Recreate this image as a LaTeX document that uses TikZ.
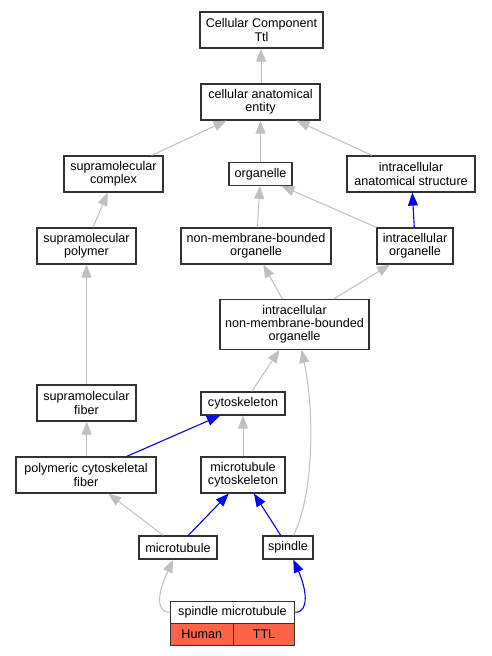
\documentclass[tikz,border=0pt]{standalone}
\usepackage{fontspec}
\setmainfont{Liberation Sans}
\usetikzlibrary{arrows.meta}
\definecolor{edgegray}{RGB}{192,192,192}
\definecolor{boxline}{RGB}{50,50,50}
\definecolor{tomato}{RGB}{255,99,71}
\tikzset{
  box/.style={draw=boxline, line width=1.2pt, fill=white, inner sep=0pt, align=center,
    font=\fontsize{12.6}{13.2}\selectfont},
  ge/.style={draw=edgegray, line width=1pt, -{Triangle[length=13pt,width=10pt]}},
  be/.style={draw=blue, line width=1.1pt, -{Triangle[length=13pt,width=10pt]}},
}
\begin{document}
\begin{tikzpicture}[x=1pt,y=-1pt]
\useasboundingbox (0,0) rectangle (491,656);
% nodes
\node[box, minimum width=123pt, minimum height=36pt] (cct) at (261.5,30) {Cellular Component\\Ttl};
\node[box, minimum width=119pt, minimum height=36pt] (cae) at (260.5,102) {cellular anatomical\\entity};
\node[box, minimum width=99pt, minimum height=36pt] (smc) at (113.5,174) {supramolecular\\complex};
\node[box, minimum width=63pt, minimum height=22.5pt] (org) at (260.5,174) {organelle};
\node[box, minimum width=128pt, minimum height=36pt] (ias) at (411,174) {intracellular\\anatomical structure};
\node[box, minimum width=99pt, minimum height=36pt] (smp) at (86.5,246) {supramolecular\\polymer};
\node[box, minimum width=150pt, minimum height=36pt] (nmbo) at (256,246) {non-membrane-bounded\\organelle};
\node[box, minimum width=76pt, minimum height=36pt] (io) at (415,246) {intracellular\\organelle};
\node[box, minimum width=149pt, minimum height=49.5pt] (inmbo) at (294.5,324.5) {intracellular\\non-membrane-bounded\\organelle};
\node[box, minimum width=99pt, minimum height=36pt] (smf) at (86.5,403) {supramolecular\\fiber};
\node[box, minimum width=84pt, minimum height=23pt] (cyt) at (243,403.5) {cytoskeleton};
\node[box, minimum width=140pt, minimum height=36pt] (pcf) at (86,475) {polymeric cytoskeletal\\fiber};
\node[box, minimum width=84pt, minimum height=36pt] (mtc) at (243,475) {microtubule\\cytoskeleton};
\node[box, minimum width=78pt, minimum height=23pt] (mt) at (178,547.5) {microtubule};
\node[box, minimum width=50pt, minimum height=23pt] (sp) at (288,547.5) {spindle};
\node[box, minimum width=124.4pt, minimum height=22pt] (spm) at (232.5,612.3) {spindle microtubule};
\node[box, fill=tomato, minimum width=63pt, minimum height=22pt] (hum) at (201.8,634.3) {Human};
\node[box, fill=tomato, minimum width=61.4pt, minimum height=22pt] (ttl) at (264,634.3) {TTL};
% edges
\draw[ge] ([xshift=0.5pt]cae.north) -- ([xshift=-0.5pt]cct.south);
\draw[ge] ([xshift=38pt]smc.north) -- ([xshift=-34pt]cae.south);
\draw[ge] (org.north) -- (cae.south);
\draw[ge] ([xshift=-39pt]ias.north) -- ([xshift=36pt]cae.south);
\draw[ge] ([xshift=6.5pt]smp.north) -- ([xshift=-5.8pt]smc.south);
\draw[ge] ([xshift=1.3pt]nmbo.north) -- ([xshift=-0.5pt]org.south);
\draw[ge] (io.north west) -- ([xshift=21pt]org.south);
\draw[be] ([xshift=-0.7pt]io.north) -- ([xshift=1.3pt]ias.south);
\draw[ge] ([xshift=-12pt]inmbo.north) -- ([xshift=7.3pt]nmbo.south);
\draw[ge] ([xshift=39pt]inmbo.north) -- ([xshift=-25pt]io.south);
\draw[ge] (smf.north) -- (smp.south);
\draw[ge] ([xshift=8.7pt]cyt.north) -- ([xshift=-15pt]inmbo.south);
\draw[ge] ([xshift=5.3pt]sp.north) .. controls (312,500) and (316,420) .. ([xshift=7.2pt]inmbo.south);
\draw[ge] ([xshift=0.7pt]pcf.north) -- ([xshift=0.2pt]smf.south);
\draw[be] ([xshift=40.7pt]pcf.north) -- ([xshift=-23pt]cyt.south);
\draw[ge] (mtc.north) -- (cyt.south);
\draw[ge] ([xshift=-14.7pt]mt.north) -- ([xshift=22.3pt]pcf.south);
\draw[be] ([xshift=10.3pt]mt.north) -- ([xshift=-14.3pt]mtc.south);
\draw[be] ([xshift=-7.3pt]sp.north) -- ([xshift=11pt]mtc.south);
\draw[ge] (spm.west) .. controls (155,612) and (158,592) .. ([xshift=-4.7pt]mt.south);
\draw[be] (spm.east) .. controls (310,612) and (306,588) .. ([xshift=5.3pt]sp.south);
\end{tikzpicture}
\end{document}
